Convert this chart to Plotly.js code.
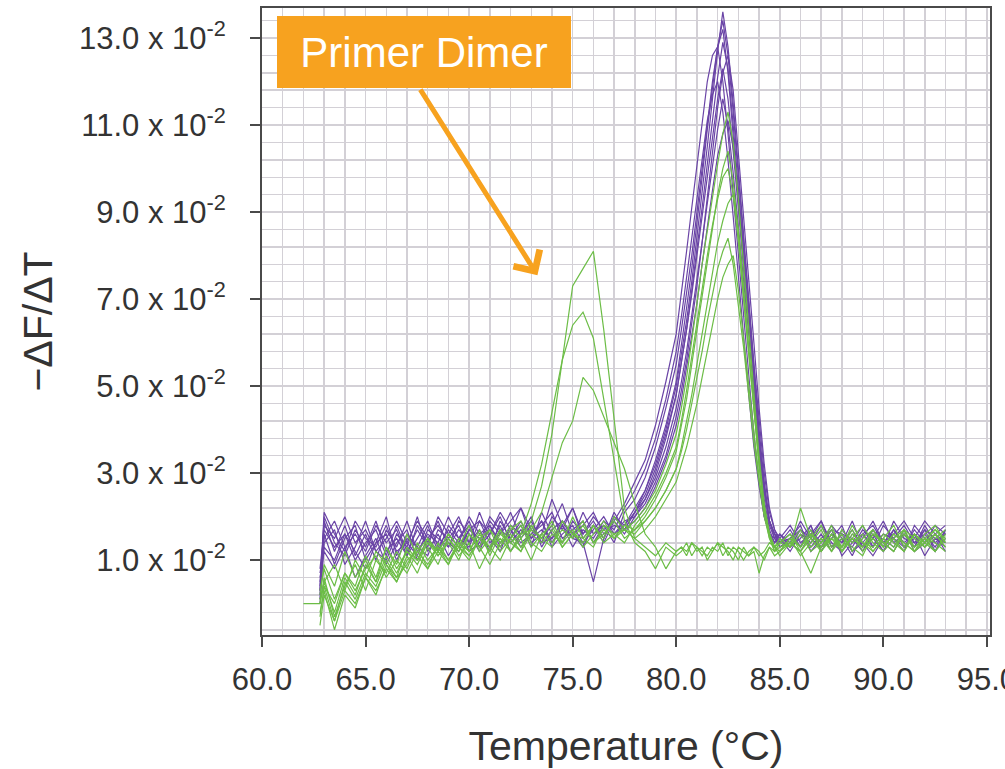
<!DOCTYPE html>
<html>
<head>
<meta charset="utf-8">
<script src="https://cdn.plot.ly/plotly-3.0.1.min.js"></script>
<style>
html,body{margin:0;padding:0;background:#fff;}
#chart{width:1005px;height:769px;}
</style>
</head>
<body>
<div id="chart"></div>
<script>
// Temperature (°C) sample points shared by every curve
const temperature = [62.0, 62.8, 63.0, 63.5, 64.0, 64.5, 65.0, 65.5, 66.0, 66.5, 67.0, 67.5, 68.0,
  68.5, 69.0, 69.5, 70.0, 70.5, 71.0, 71.5, 72.0, 72.5, 73.0, 73.5, 74.0, 74.5, 75.0, 75.5, 76.0, 76.5, 77.0, 77.5, 78.0,
  78.5, 79.0, 79.5, 80.0,
  80.25, 80.5, 80.75, 81.0, 81.25, 81.5, 81.75, 82.0, 82.25, 82.5, 82.75, 83.0, 83.25, 83.5, 83.75, 84.0, 84.25, 84.5, 84.75, 85.0,
  85.5, 86.0, 86.5, 87.0, 87.5, 88.0, 88.5, 89.0, 89.5, 90.0, 90.5, 91.0, 91.5, 92.0, 92.5, 93.0];

// -dF/dT (x 10^-2), purple samples
const purple1 = [null, 0.3, 1.9, 1.2, 1.8, 1.1, 1.6, 1.0, 1.7, 1.3, 1.9, 1.2, 1.6,
  1.4, 2.0, 1.5, 1.8, 1.3, 1.9, 1.6, 2.1, 1.5, 1.8, 1.4, 2.0, 1.7, 2.2, 1.6, 1.9, 1.5, 2.0, 1.8, 2.2,
  2.6, 3.2, 4.0, 5.0,
  5.7, 6.5, 7.4, 8.4, 9.4, 10.5, 11.6, 12.7, 13.6, 12.8, 11.5, 10.0, 8.6, 7.2, 5.6, 4.0, 2.8, 1.9, 1.5, 1.4,
  1.7, 1.3, 1.8, 1.2, 1.6, 1.4, 1.9, 1.3, 1.5, 1.2, 1.7, 1.4, 1.6, 1.1, 1.5, 1.3];
const purple2 = [null, 0.1, 2.0, 1.4, 1.1, 1.7, 1.3, 1.9, 1.2, 1.5, 1.1, 1.8, 1.4,
  1.9, 1.3, 1.7, 1.4, 2.1, 1.5, 1.2, 1.8, 1.6, 2.0, 1.3, 1.7, 1.9, 1.5, 2.1, 1.6, 1.8, 1.4, 2.1, 2.4,
  2.9, 3.6, 4.5, 5.5,
  6.3, 7.1, 8.0, 9.0, 10.0, 11.0, 12.0, 12.8, 13.2, 12.2, 10.8, 9.3, 7.9, 6.4, 4.9, 3.5, 2.4, 1.7, 1.4, 1.5,
  1.2, 1.6, 1.4, 1.8, 1.3, 1.5, 1.1, 1.6, 1.8, 1.4, 1.2, 1.6, 1.3, 1.8, 1.4, 1.6];
const purple3 = [null, 0.5, 1.6, 0.9, 1.5, 1.8, 1.0, 1.4, 2.0, 1.1, 1.6, 1.3, 1.8,
  1.2, 1.6, 2.0, 1.4, 1.7, 1.2, 1.9, 1.5, 1.8, 1.3, 2.1, 1.6, 1.4, 1.9, 1.6, 2.0, 1.7, 1.9, 1.6, 2.0,
  2.4, 3.0, 3.8, 4.8,
  5.5, 6.3, 7.2, 8.1, 9.1, 10.1, 11.1, 12.1, 12.9, 12.3, 11.0, 9.6, 8.2, 6.8, 5.3, 3.8, 2.7, 1.9, 1.6, 1.3,
  1.5, 1.8, 1.2, 1.5, 1.7, 1.1, 1.4, 1.8, 1.3, 1.6, 1.5, 1.2, 1.8, 1.5, 1.2, 1.7];
const purple4 = [null, 0.0, 1.4, 1.7, 0.9, 1.3, 1.9, 1.2, 1.0, 1.6, 1.3, 2.0, 1.2,
  1.6, 1.1, 1.5, 1.9, 1.3, 1.6, 2.0, 1.4, 1.7, 1.5, 1.9, 1.3, 1.6, 1.8, 1.4, 1.7, 2.0, 1.6, 1.9, 2.0,
  2.3, 2.8, 3.4, 4.3,
  4.9, 5.6, 6.4, 7.3, 8.3, 9.3, 10.3, 11.4, 12.2, 12.6, 11.8, 10.4, 9.0, 7.6, 6.0, 4.5, 3.2, 2.2, 1.7, 1.5,
  1.3, 1.7, 1.5, 1.9, 1.4, 1.2, 1.6, 1.4, 1.7, 1.3, 1.9, 1.5, 1.4, 1.7, 1.2, 1.5];
const purple5 = [null, 0.4, 1.8, 1.5, 2.0, 1.4, 1.7, 1.2, 1.5, 1.9, 1.4, 1.1, 1.7,
  1.5, 1.3, 1.9, 1.6, 1.2, 1.8, 1.4, 1.6, 2.2, 1.7, 1.5, 1.8, 2.3, 1.6, 1.3, 1.8, 1.5, 2.1, 1.7, 2.1,
  2.5, 3.1, 3.9, 4.8,
  5.5, 6.3, 7.1, 8.0, 8.9, 9.8, 10.8, 11.6, 12.3, 11.6, 10.4, 9.1, 7.8, 6.4, 5.0, 3.6, 2.6, 1.9, 1.6, 1.4,
  1.6, 1.3, 1.7, 1.4, 1.8, 1.5, 1.3, 1.7, 1.5, 1.9, 1.4, 1.6, 1.3, 1.7, 1.5, 1.4];
const purple6 = [null, 0.6, 1.2, 0.8, 1.3, 0.6, 1.1, 1.5, 0.9, 1.4, 1.7, 1.0, 1.5,
  1.8, 1.4, 1.2, 1.7, 1.5, 1.3, 1.8, 1.2, 1.6, 1.9, 1.4, 1.5, 1.8, 1.3, 1.7, 1.5, 1.9, 1.7, 2.2, 2.6,
  3.1, 3.8, 4.7, 5.8,
  6.6, 7.5, 8.4, 9.4, 10.3, 11.1, 11.7, 12.0, 11.3, 10.2, 8.9, 7.5, 6.1, 4.8, 3.6, 2.7, 2.0, 1.6, 1.5, 1.3,
  1.4, 1.2, 1.6, 1.3, 1.5, 1.8, 1.2, 1.4, 1.1, 1.5, 1.3, 1.7, 1.2, 1.4, 1.6, 1.2];
const purple7 = [null, 0.2, 1.5, 1.9, 1.3, 1.6, 1.2, 1.8, 1.4, 1.7, 1.1, 1.5, 1.9,
  1.3, 1.7, 1.4, 2.0, 1.6, 1.8, 1.3, 1.7, 1.4, 1.6, 1.8, 2.1, 1.5, 1.7, 1.9, 1.4, 1.8, 1.6, 1.8, 2.1,
  2.4, 2.9, 3.6, 4.5,
  5.1, 5.8, 6.6, 7.4, 8.3, 9.2, 10.1, 10.9, 11.6, 11.0, 9.9, 8.7, 7.5, 6.2, 4.9, 3.6, 2.6, 1.9, 1.6, 1.5,
  1.8, 1.4, 1.6, 1.9, 1.3, 1.6, 1.5, 1.2, 1.7, 1.4, 1.6, 1.9, 1.5, 1.3, 1.6, 1.8];
const purple8 = [null, 0.7, 1.3, 1.0, 1.6, 1.2, 0.8, 1.4, 1.6, 1.0, 1.5, 1.3, 1.1,
  1.7, 1.5, 1.8, 1.2, 1.4, 2.0, 1.7, 1.5, 1.9, 1.4, 1.6, 2.4, 1.8, 1.5, 1.4, 0.5, 1.5, 2.0, 1.7, 1.9,
  2.2, 2.7, 3.3, 4.1,
  4.7, 5.4, 6.1, 6.9, 7.8, 8.7, 9.5, 10.3, 10.8, 11.1, 10.5, 9.4, 8.2, 6.9, 5.5, 4.2, 3.0, 2.1, 1.7, 1.4,
  1.5, 1.7, 1.3, 1.6, 1.2, 1.7, 1.4, 1.6, 1.3, 1.8, 1.5, 1.3, 1.7, 1.4, 1.8, 1.6];
const purple9 = [null, 0.3, 2.1, 1.6, 1.2, 1.9, 1.5, 1.3, 1.8, 1.2, 1.4, 1.9, 1.5,
  1.2, 1.8, 1.5, 1.3, 1.9, 1.6, 2.1, 1.7, 1.3, 1.6, 1.9, 1.4, 1.8, 2.2, 1.5, 1.8, 1.4, 1.9, 2.3, 2.8,
  3.3, 4.1, 5.1, 6.2,
  7.1, 8.1, 9.1, 10.1, 11.1, 12.0, 12.6, 12.8, 12.0, 10.8, 9.4, 8.0, 6.6, 5.2, 3.9, 2.8, 2.0, 1.6, 1.4, 1.6,
  1.3, 1.5, 1.8, 1.2, 1.6, 1.4, 1.7, 1.3, 1.6, 1.2, 1.5, 1.8, 1.4, 1.6, 1.3, 1.7];
const purple10 = [null, 0.8, 1.7, 1.3, 1.6, 1.0, 1.4, 1.7, 1.1, 1.8, 1.2, 1.7, 1.3,
  2.0, 1.6, 1.3, 1.7, 1.9, 1.4, 1.6, 1.9, 2.2, 1.5, 1.7, 1.5, 1.9, 1.6, 1.8, 2.1, 1.6, 1.8, 1.7, 2.1,
  2.6, 3.3, 4.1, 5.1,
  5.9, 6.8, 7.7, 8.7, 9.8, 10.9, 11.9, 12.8, 13.4, 12.6, 11.3, 9.9, 8.4, 6.9, 5.3, 3.8, 2.6, 1.8, 1.5, 1.6,
  1.4, 1.9, 1.5, 1.3, 1.7, 1.6, 1.2, 1.5, 1.9, 1.4, 1.7, 1.3, 1.5, 1.9, 1.6, 1.4];

// -dF/dT (x 10^-2), green samples (specific product)
const green1 = [null, 0.0, 0.6, -0.3, 0.4, 0.9, 0.3, 1.0, 0.7, 1.2, 0.8, 1.4, 1.0,
  1.3, 0.9, 1.5, 1.2, 1.7, 1.1, 1.6, 1.4, 1.2, 1.8, 1.5, 1.3, 1.9, 1.6, 1.4, 1.8, 1.5, 2.0, 1.7, 1.9,
  2.2, 2.6, 3.2, 3.9,
  4.5, 5.2, 6.0, 6.9, 7.8, 8.6, 9.4, 10.1, 10.8, 11.3, 10.6, 9.3, 7.8, 6.3, 4.8, 3.4, 2.3, 1.6, 1.3, 1.4,
  1.6, 1.2, 1.5, 1.8, 1.3, 1.6, 1.2, 1.5, 1.7, 1.3, 1.6, 1.4, 1.2, 1.6, 1.8, 1.4];
const green2 = [null, -0.2, 0.3, -0.6, 0.2, -0.1, 0.6, 0.2, 0.9, 0.5, 1.1, 0.7, 1.3,
  0.9, 1.5, 1.1, 1.4, 0.8, 1.3, 1.7, 1.2, 1.5, 1.0, 1.6, 1.8, 1.3, 1.6, 1.9, 1.4, 1.7, 1.5, 1.8, 1.7,
  2.0, 2.4, 2.9, 3.5,
  4.1, 4.7, 5.5, 6.3, 7.1, 7.9, 8.7, 9.4, 10.0, 10.4, 9.7, 8.5, 7.1, 5.8, 4.4, 3.2, 2.2, 1.6, 1.2, 1.3,
  1.4, 1.7, 1.3, 1.5, 1.2, 1.7, 1.4, 1.6, 1.2, 1.5, 1.8, 1.3, 1.6, 1.4, 1.2, 1.5];
const green3 = [null, 0.2, 0.9, 0.4, 1.2, 0.6, 1.0, 0.5, 1.3, 0.9, 1.6, 1.1, 0.8,
  1.4, 1.0, 1.3, 1.8, 1.2, 1.5, 1.3, 1.7, 1.9, 1.4, 1.2, 1.6, 1.4, 2.0, 1.5, 1.3, 1.8, 1.6, 1.4, 1.8,
  2.1, 2.5, 3.0, 3.6,
  4.2, 4.9, 5.7, 6.5, 7.3, 8.0, 8.7, 9.3, 9.8, 10.0, 9.4, 8.3, 7.0, 5.7, 4.4, 3.2, 2.2, 1.6, 1.3, 1.2,
  1.5, 1.3, 1.6, 1.4, 1.8, 1.2, 1.5, 1.3, 1.6, 1.4, 1.2, 1.7, 1.5, 1.3, 1.6, 1.3];
const green4 = [null, -0.3, 0.4, 0.0, 0.7, 0.3, 0.8, 1.1, 0.6, 1.0, 0.7, 1.2, 1.5,
  1.1, 1.4, 1.0, 1.6, 1.3, 0.9, 1.4, 1.6, 1.3, 1.7, 1.5, 1.9, 1.4, 1.7, 1.3, 1.6, 1.9, 1.5, 1.7, 1.6,
  1.9, 2.2, 2.6, 3.1,
  3.6, 4.2, 4.8, 5.5, 6.2, 6.9, 7.6, 8.3, 8.8, 9.2, 9.4, 8.6, 7.3, 5.9, 4.5, 3.2, 2.2, 1.6, 1.3, 1.5,
  1.3, 1.6, 1.2, 1.4, 1.7, 1.3, 1.5, 1.8, 1.4, 1.2, 1.5, 1.7, 1.3, 1.5, 1.2, 1.6];
const green5 = [null, 0.1, 0.5, 0.9, 0.3, 1.0, 0.6, 1.2, 0.9, 0.6, 1.3, 1.0, 1.4,
  1.2, 1.6, 1.3, 1.1, 1.5, 1.7, 1.2, 1.5, 1.8, 1.3, 1.6, 1.4, 1.7, 1.5, 1.8, 1.4, 1.6, 1.9, 1.5, 1.7,
  1.9, 2.2, 2.6, 3.1,
  3.5, 4.0, 4.6, 5.2, 5.8, 6.5, 7.1, 7.7, 8.1, 8.4, 7.8, 6.9, 5.9, 4.8, 3.7, 2.8, 2.0, 1.5, 1.2, 1.4,
  1.6, 1.3, 1.7, 1.2, 1.5, 1.3, 1.8, 1.4, 1.3, 1.6, 1.4, 1.2, 1.6, 1.4, 1.7, 1.5];
const green6 = [null, -0.5, 0.2, -0.4, 0.5, 0.1, 0.7, 0.4, 1.0, 0.6, 0.9, 1.3, 0.8,
  1.2, 0.9, 1.4, 1.1, 1.5, 1.3, 1.0, 1.5, 1.2, 1.6, 1.4, 1.7, 1.3, 1.6, 1.5, 1.8, 1.4, 1.6, 1.7, 1.5,
  1.7, 2.0, 2.4, 2.8,
  3.2, 3.6, 4.1, 4.6, 5.2, 5.8, 6.4, 7.0, 7.5, 7.8, 8.0, 7.2, 6.1, 5.0, 3.9, 2.9, 2.1, 1.5, 1.3, 1.2,
  1.4, 1.2, 1.6, 1.3, 1.5, 1.2, 1.6, 1.4, 1.2, 1.5, 1.3, 1.7, 1.2, 1.4, 1.6, 1.3];

// -dF/dT (x 10^-2), green samples with primer dimer peak
const dimer1 = [0.0, 0.0, 0.5, -0.2, 0.6, 0.2, 0.9, 0.5, 1.1, 0.7, 1.2, 0.9, 1.4,
  1.1, 1.5, 1.2, 1.6, 1.3, 1.7, 1.4, 1.8, 1.5, 1.9, 2.7, 3.9, 5.6, 7.3, 7.7, 8.1, 6.3, 4.2, 2.2, 1.5,
  1.3, 1.1, 1.4, 1.2,
  1.3, 1.1, 1.4, 1.2, 1.3, 1.0, 1.2, 1.4, 1.1, 1.3, 1.2, 1.0, 1.3, 1.1, 1.2, 0.7, 1.1, 1.3, 1.2, 1.4,
  1.3, 2.2, 1.5, 1.2, 1.6, 1.3, 1.7, 1.2, 1.5, 1.3, 1.6, 1.4, 1.2, 1.5, 1.7, 1.4];
const dimer2 = [null, 0.3, 0.8, 0.1, 0.7, 0.4, 1.1, 0.6, 1.3, 0.8, 1.2, 1.0, 1.5,
  1.2, 1.6, 1.3, 1.0, 1.5, 1.2, 1.7, 1.4, 1.6, 2.3, 3.2, 4.4, 5.6, 6.4, 6.7, 6.1, 4.7, 3.2, 1.9, 1.4,
  1.2, 0.8, 1.3, 1.1,
  1.2, 1.4, 1.1, 1.3, 1.2, 1.1, 1.3, 1.2, 1.4, 1.1, 1.3, 1.2, 1.0, 1.2, 1.3, 1.1, 1.2, 1.4, 1.3, 1.1,
  1.4, 1.2, 0.7, 1.3, 1.6, 1.2, 1.5, 1.3, 1.7, 1.4, 1.2, 1.6, 1.3, 1.5, 1.4, 1.2];
const dimer3 = [null, 0.1, 0.4, -0.4, 0.3, 0.0, 0.6, 0.3, 0.8, 0.5, 1.0, 1.2, 0.9,
  1.3, 1.0, 1.4, 1.2, 1.6, 1.3, 1.5, 1.2, 1.6, 1.7, 2.1, 2.9, 3.7, 4.2, 5.2, 4.9, 4.3, 3.7, 3.1, 2.3,
  1.6, 1.3, 0.8, 1.2,
  1.3, 1.2, 1.4, 1.3, 1.1, 1.3, 1.2, 1.4, 1.3, 1.2, 1.0, 1.3, 1.2, 1.1, 1.3, 1.2, 1.0, 1.3, 1.1, 1.2,
  1.5, 1.1, 1.4, 1.7, 1.2, 1.5, 1.3, 1.1, 1.6, 1.4, 1.5, 1.2, 1.6, 1.3, 1.5, 1.7];

const purpleCurves = [purple1, purple2, purple3, purple4, purple5, purple6, purple7, purple8, purple9, purple10];
const greenCurves = [green1, green2, green3, green4, green5, green6, dimer1, dimer2, dimer3];

// axis ticks
const xTicks = [60, 65, 70, 75, 80, 85, 90, 95];
const yTicks = [1, 3, 5, 7, 9, 11, 13];

const PURPLE = '#6a44a6';
const GREEN = '#6cbd46';
const ORANGE = '#f7a21f';
const FONT = 'Liberation Sans, Arial, Helvetica, sans-serif';

const traces = [];
purpleCurves.forEach((ys, i) => traces.push({
  type: 'scatter', mode: 'lines', x: temperature, y: ys, name: 'purple ' + (i + 1),
  line: {color: PURPLE, width: 1.2}, connectgaps: false, showlegend: false
}));
greenCurves.forEach((ys, i) => traces.push({
  type: 'scatter', mode: 'lines', x: temperature, y: ys, name: 'green ' + (i + 1),
  line: {color: GREEN, width: 1.2}, connectgaps: false, showlegend: false
}));

const GRID = '#d3d0d6';
const AXIS = '#4a4a4a';

const layout = {
  width: 1005, height: 769,
  margin: {l: 262, r: 15, t: 8, b: 134},
  paper_bgcolor: '#ffffff', plot_bgcolor: '#ffffff',
  showlegend: false,
  font: {family: FONT, color: '#333333'},
  xaxis: {
    range: [60, 95.15], tickmode: 'array', tickvals: xTicks,
    ticktext: xTicks.map(v => v.toFixed(1)),
    ticks: 'outside', ticklen: 10, tickwidth: 2, tickcolor: AXIS,
    showline: true, linecolor: AXIS, linewidth: 2, mirror: true,
    showgrid: true, gridcolor: GRID, gridwidth: 1.5,
    minor: {dtick: 1, tick0: 60, ticks: '', showgrid: true, gridcolor: GRID, gridwidth: 1.5},
    tickfont: {size: 31, color: '#333333'}, ticklabelstandoff: 6,
    ticklabeloverflow: 'allow',
    zeroline: false,
    title: {text: 'Temperature (°C)', font: {size: 41, color: '#333333'}, standoff: 36}
  },
  yaxis: {
    range: [-0.72, 13.69], tickmode: 'array', tickvals: yTicks,
    ticktext: yTicks.map(v => v.toFixed(1) + ' x 10<sup>-2</sup>'),
    ticks: 'outside', ticklen: 10, tickwidth: 2, tickcolor: AXIS,
    showline: true, linecolor: AXIS, linewidth: 2, mirror: true,
    showgrid: true, gridcolor: GRID, gridwidth: 1.5,
    minor: {dtick: 0.4, tick0: 1, ticks: '', showgrid: true, gridcolor: GRID, gridwidth: 1.5},
    tickfont: {size: 31, color: '#333333'}, ticklabelstandoff: 18,
    zeroline: false,
    title: {text: '\u2212\u0394F/\u0394T', font: {size: 41, color: '#333333'}, standoff: 14}
  },
  annotations: [
    {
      xref: 'paper', yref: 'paper', x: 0.2225, y: 0.93, xanchor: 'center', yanchor: 'middle',
      text: 'Primer Dimer', showarrow: false,
      font: {size: 42, color: '#ffffff', family: FONT},
      bgcolor: ORANGE, borderpad: 0, borderwidth: 0, width: 294, height: 72
    },
    {
      xref: 'x', yref: 'y', axref: 'x', ayref: 'y',
      x: 73.3, y: 7.55, ax: 67.6, ay: 11.85,
      text: '', showarrow: true, arrowhead: 4, arrowsize: 1.2, arrowwidth: 5, arrowcolor: ORANGE
    }
  ]
};

Plotly.newPlot('chart', traces, layout, {displayModeBar: false, staticPlot: true});
</script>
</body>
</html>
